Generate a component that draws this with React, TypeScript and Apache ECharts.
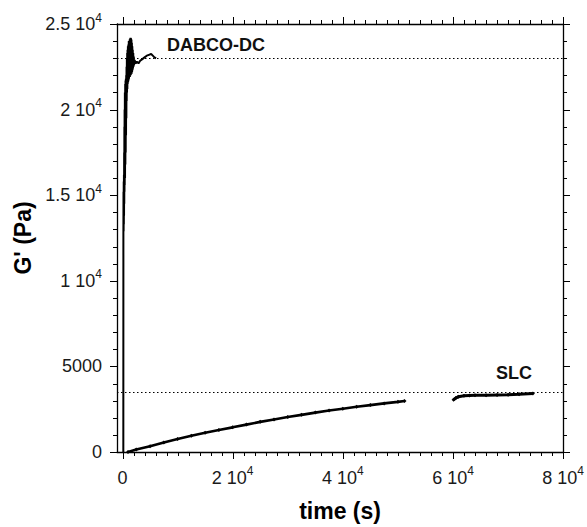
import React, { useEffect, useRef } from "react";
import * as echarts from "echarts";

// ---- data ----
const dabcoTime = [150, 160, 180, 200, 220, 240, 260, 280, 300, 320, 340, 360, 380, 400, 430, 460, 490, 520, 550, 580, 610, 640, 670, 700, 730, 760, 790, 820, 850, 880, 910, 940, 980, 1020, 1060, 1100, 1140, 1180, 1220, 1260, 1300, 1340, 1380, 1420, 1460, 1500, 1540, 1580, 1620, 1660, 1700, 1740, 1780, 1820, 1860, 1900, 1950, 2000, 2050, 2100, 2200, 2400, 2600, 2900, 3200, 3600, 4000, 4400, 4800, 5200, 5500, 5800, 6100];
const dabcoG = [0, 12800, 15200, 12900, 15800, 13300, 16200, 13800, 17500, 14500, 19000, 15200, 20000, 15600, 21000, 16000, 21500, 16800, 21700, 17500, 21800, 18500, 22000, 19500, 22500, 20500, 23000, 21000, 23300, 21200, 23500, 21500, 23700, 21600, 23800, 21700, 24000, 21800, 23900, 21900, 24100, 21900, 24150, 22000, 24200, 22000, 24170, 22100, 24100, 22100, 23900, 22200, 23700, 22300, 23500, 22400, 23300, 22500, 23100, 22600, 22900, 22700, 22800, 22700, 22850, 22950, 23050, 23150, 23200, 23250, 23150, 23050, 23000];

const slc1Time = [1000, 2500, 5000, 7500, 10000, 12500, 15000, 17500, 20000, 22500, 25000, 27500, 30000, 32500, 35000, 37500, 40000, 42500, 45000, 47500, 50000, 51200];
const slc1G = [0, 140, 330, 560, 760, 950, 1120, 1290, 1440, 1600, 1760, 1900, 2040, 2170, 2300, 2420, 2530, 2640, 2740, 2840, 2930, 2980];

const slc2Time = [60100, 60500, 61000, 62000, 63000, 64000, 66000, 68000, 70000, 72000, 74500];
const slc2G = [3050, 3150, 3230, 3280, 3300, 3320, 3320, 3330, 3340, 3370, 3420];

const refLevels = [23000, 3500];
const seriesNames = ["DABCO-DC", "SLC"];

const xMajorTicks = [0, 20000, 40000, 60000, 80000];
const xTickLabels = [["0", ""], ["2 10", "4"], ["4 10", "4"], ["6 10", "4"], ["8 10", "4"]];
const yTicks = [0, 5000, 10000, 15000, 20000, 25000];
const yTickLabels = [["0", ""], ["5000", ""], ["1 10", "4"], ["1.5 10", "4"], ["2 10", "4"], ["2.5 10", "4"]];
const xMinorTicks = Array.from({ length: 41 }, (_, i) => i * 2000);
const yMinorTicks = Array.from({ length: 26 }, (_, i) => i * 1000);

const FONT = "'Liberation Sans', Arial, Helvetica, sans-serif";

const zip = (a: number[], b: number[]) => a.map((v, i) => [v, b[i]]);

function fmt(ticks: number[], labels: string[][]) {
  return (v: number) => {
    const i = ticks.findIndex((t) => Math.abs(t - v) < 1e-6);
    if (i < 0) return "";
    const [m, s] = labels[i];
    return s ? `{m|${m}}{s|${s}}` : `{m|${m}}`;
  };
}

const rich = {
  m: { fontSize: 18, lineHeight: 25, fontFamily: FONT, color: "#1a1a1a" },
  s: { fontSize: 12, lineHeight: 12, fontFamily: FONT, color: "#1a1a1a", verticalAlign: "top" },
};

// tick items: [axis (0 = x, 1 = y), value, length]
const MAJOR = 7;
const MINOR = 4;
const tickItems = [
  ...xMinorTicks.filter((v) => !xMajorTicks.includes(v)).map((v) => [0, v, MINOR]),
  ...xMajorTicks.map((v) => [0, v, MAJOR]),
  ...yMinorTicks.filter((v) => !yTicks.includes(v)).map((v) => [1, v, MINOR]),
  ...yTicks.map((v) => [1, v, MAJOR]),
];

export default function App() {
  const ref = useRef<HTMLDivElement>(null);
  useEffect(() => {
    if (!ref.current) return;
    const chart = echarts.init(ref.current, null, { renderer: "svg" });
    const axisLine = { show: true, onZero: false, lineStyle: { color: "#000", width: 1.3 } };
    const xBase = { type: "value", min: -1000, max: 80000, splitLine: { show: false }, axisLine, axisTick: { show: false }, minorTick: { show: false } };
    const yBase = { type: "value", min: 0, max: 25000, interval: 5000, splitLine: { show: false }, axisLine, axisTick: { show: false }, minorTick: { show: false } };
    const lineCommon = { type: "line", showSymbol: false, animation: false, silent: true };
    const tickStyle = { stroke: "#000", lineWidth: 1 };
    chart.setOption({
      animation: false,
      grid: { left: 117, right: 18, top: 24, bottom: 73 },
      xAxis: [
        {
          ...xBase,
          position: "bottom",
          name: "time (s)",
          nameLocation: "middle",
          nameGap: 47,
          nameTextStyle: { fontFamily: FONT, fontSize: 23, fontWeight: "bold", color: "#000" },
          axisLabel: { show: true, margin: 13, customValues: xMajorTicks, formatter: fmt(xMajorTicks, xTickLabels), rich },
        },
        { ...xBase, position: "top", axisLabel: { show: false } },
      ],
      yAxis: [
        {
          ...yBase,
          position: "left",
          name: "G' (Pa)",
          nameLocation: "middle",
          nameGap: 83,
          nameTextStyle: { fontFamily: FONT, fontSize: 23, fontWeight: "bold", color: "#000" },
          axisLabel: { show: true, margin: 15, formatter: fmt(yTicks, yTickLabels), rich },
        },
        { ...yBase, position: "right", axisLabel: { show: false } },
      ],
      series: [
        {
          type: "custom",
          name: "ticks",
          silent: true,
          clip: false,
          z: 10,
          xAxisIndex: 0,
          yAxisIndex: 0,
          data: tickItems,
          renderItem: (params: any, api: any) => {
            const kind = api.value(0);
            const v = api.value(1);
            const len = api.value(2);
            const cs = params.coordSys;
            if (kind === 0) {
              const px = Math.round(api.coord([v, 0])[0]) + 0.5;
              const yb = Math.round(cs.y + cs.height);
              const yt = Math.round(cs.y);
              return {
                type: "group",
                children: [
                  { type: "line", shape: { x1: px, y1: yb, x2: px, y2: yb + len }, style: tickStyle },
                  { type: "line", shape: { x1: px, y1: yt, x2: px, y2: yt - len }, style: tickStyle },
                ],
              };
            }
            const py = Math.round(api.coord([0, v])[1]) + 0.5;
            const xl = Math.round(cs.x);
            const xr = Math.round(cs.x + cs.width);
            return {
              type: "group",
              children: [
                { type: "line", shape: { x1: xl, y1: py, x2: xl - len, y2: py }, style: tickStyle },
                { type: "line", shape: { x1: xr, y1: py, x2: xr + len, y2: py }, style: tickStyle },
              ],
            };
          },
        },
        {
          ...lineCommon,
          name: seriesNames[0],
          data: zip(dabcoTime, dabcoG),
          lineStyle: { color: "#000", width: 2 },
          markLine: {
            silent: true,
            symbol: "none",
            label: { show: false },
            lineStyle: { color: "#000", width: 1.2, type: [1.5, 2.5] },
            data: [{ yAxis: refLevels[0] }],
          },
        },
        {
          ...lineCommon,
          name: seriesNames[1],
          data: zip(slc1Time, slc1G),
          showSymbol: true,
          symbol: "diamond",
          symbolSize: 4,
          itemStyle: { color: "#000" },
          lineStyle: { color: "#000", width: 2.6 },
          markLine: {
            silent: true,
            symbol: "none",
            label: { show: false },
            lineStyle: { color: "#000", width: 1.2, type: [1.5, 2.5] },
            data: [{ yAxis: refLevels[1] }],
          },
        },
        {
          ...lineCommon,
          name: seriesNames[1] + " 2",
          data: zip(slc2Time, slc2G),
          showSymbol: true,
          symbol: "diamond",
          symbolSize: 4,
          itemStyle: { color: "#000" },
          lineStyle: { color: "#000", width: 3 },
        },
      ],
      graphic: [
        {
          type: "text",
          x: 167,
          y: 45,
          style: { text: seriesNames[0], font: `bold 18px ${FONT}`, fill: "#111", verticalAlign: "middle", align: "left" },
        },
        {
          type: "text",
          x: 496,
          y: 373,
          style: { text: seriesNames[1], font: `bold 18px ${FONT}`, fill: "#111", verticalAlign: "middle", align: "left" },
        },
      ],
    });
    return () => chart.dispose();
  }, []);
  return <div ref={ref} style={{ position: "fixed", left: 0, top: 0, width: 587, height: 527, background: "#fff" }} />;
}
